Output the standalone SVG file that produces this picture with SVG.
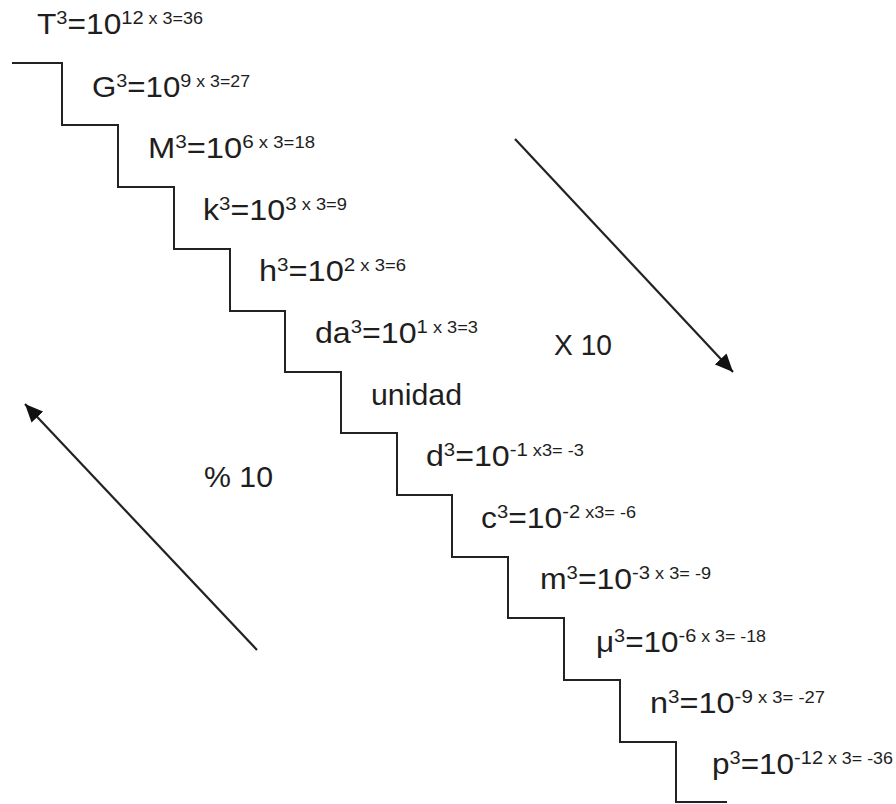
<svg xmlns="http://www.w3.org/2000/svg" width="896" height="804" viewBox="0 0 896 804">
<defs>
<style>
text{font-family:"Liberation Sans",Arial,sans-serif;font-size:30px;fill:#1e1e1e}
.s{font-size:19px}
.t{font-size:17px}
.stair{fill:none;stroke:#222;stroke-width:2}
.arr{stroke:#222;stroke-width:2.2;fill:none}
</style>
<marker id="ah" markerUnits="userSpaceOnUse" markerWidth="20" markerHeight="16" refX="18" refY="8" orient="auto">
<path d="M0,0 L18,8 L0,16 Z" fill="#111"/>
</marker>
</defs>
<rect width="896" height="804" fill="#fff"/>
<g id="staircase">
<path class="stair" d="M12,63 H62 V125 H118 V187 H174 V249 H230 V311 H285 V372 H341 V433 H397 V495 H452 V557 H508 V618 H564 V680 H620 V742 H676 V802 H727"/>
</g>
<g id="connectors">
<line class="arr" x1="515" y1="139" x2="733" y2="372" marker-end="url(#ah)"/>
<line class="arr" x1="257" y1="650" x2="25" y2="404" marker-end="url(#ah)"/>
</g>
<g id="T"><text x="37" y="34" textLength="166" lengthAdjust="spacingAndGlyphs">T<tspan class="s" dy="-10">3</tspan><tspan dy="10">=10</tspan><tspan class="s" dy="-10">12</tspan><tspan class="t"> x 3=36</tspan></text></g>
<g id="G"><text x="92" y="97" textLength="158" lengthAdjust="spacingAndGlyphs">G<tspan class="s" dy="-10">3</tspan><tspan dy="10">=10</tspan><tspan class="s" dy="-10">9</tspan><tspan class="t"> x 3=27</tspan></text></g>
<g id="M"><text x="148" y="158" textLength="167" lengthAdjust="spacingAndGlyphs">M<tspan class="s" dy="-10">3</tspan><tspan dy="10">=10</tspan><tspan class="s" dy="-10">6</tspan><tspan class="t"> x 3=18</tspan></text></g>
<g id="k"><text x="203" y="220" textLength="144" lengthAdjust="spacingAndGlyphs">k<tspan class="s" dy="-10">3</tspan><tspan dy="10">=10</tspan><tspan class="s" dy="-10">3</tspan><tspan class="t"> x 3=9</tspan></text></g>
<g id="h"><text x="259" y="281" textLength="147" lengthAdjust="spacingAndGlyphs">h<tspan class="s" dy="-10">3</tspan><tspan dy="10">=10</tspan><tspan class="s" dy="-10">2</tspan><tspan class="t"> x 3=6</tspan></text></g>
<g id="da"><text x="315" y="343" textLength="163" lengthAdjust="spacingAndGlyphs">da<tspan class="s" dy="-10">3</tspan><tspan dy="10">=10</tspan><tspan class="s" dy="-10">1</tspan><tspan class="t"> x 3=3</tspan></text></g>
<g id="unidad"><text x="371" y="405" textLength="91" lengthAdjust="spacingAndGlyphs">unidad</text></g>
<g id="d"><text x="426" y="466" textLength="158" lengthAdjust="spacingAndGlyphs">d<tspan class="s" dy="-10">3</tspan><tspan dy="10">=10</tspan><tspan class="s" dy="-10">-1</tspan><tspan class="t"> x3= -3</tspan></text></g>
<g id="c"><text x="481" y="528" textLength="155" lengthAdjust="spacingAndGlyphs">c<tspan class="s" dy="-10">3</tspan><tspan dy="10">=10</tspan><tspan class="s" dy="-10">-2</tspan><tspan class="t"> x3= -6</tspan></text></g>
<g id="m"><text x="540" y="589" textLength="171" lengthAdjust="spacingAndGlyphs">m<tspan class="s" dy="-10">3</tspan><tspan dy="10">=10</tspan><tspan class="s" dy="-10">-3</tspan><tspan class="t"> x 3= -9</tspan></text></g>
<g id="mu"><text x="596" y="652" textLength="170" lengthAdjust="spacingAndGlyphs">μ<tspan class="s" dy="-10">3</tspan><tspan dy="10">=10</tspan><tspan class="s" dy="-10">-6</tspan><tspan class="t"> x 3= -18</tspan></text></g>
<g id="n"><text x="650" y="713" textLength="175" lengthAdjust="spacingAndGlyphs">n<tspan class="s" dy="-10">3</tspan><tspan dy="10">=10</tspan><tspan class="s" dy="-10">-9</tspan><tspan class="t"> x 3= -27</tspan></text></g>
<g id="p"><text x="712" y="774" textLength="181" lengthAdjust="spacingAndGlyphs">p<tspan class="s" dy="-10">3</tspan><tspan dy="10">=10</tspan><tspan class="s" dy="-10">-12</tspan><tspan class="t"> x 3= -36</tspan></text></g>
<g id="x10"><text x="554" y="355" textLength="58" lengthAdjust="spacingAndGlyphs">X 10</text></g>
<g id="div10"><text x="204" y="487" textLength="69" lengthAdjust="spacingAndGlyphs">% 10</text></g>
</svg>
